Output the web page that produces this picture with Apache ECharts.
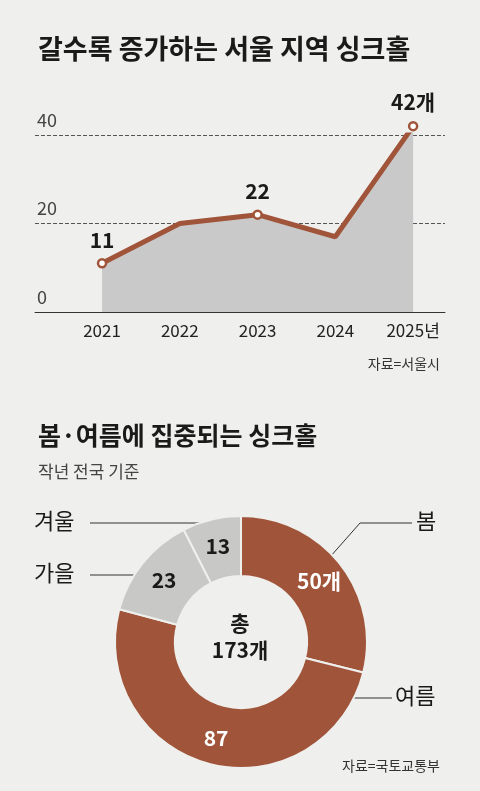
<!DOCTYPE html><html><head><meta charset="utf-8"><script src="https://cdn.jsdelivr.net/npm/echarts@6/dist/echarts.min.js"></script>
<style>body{margin:0;background:#efefed}#c{width:480px;height:791px}</style></head><body><div id="c"></div><script>
const years=[2021,2022,2023,2024,2025];
const counts=[11,20,22,17,42];
const labeled=[0,2,4];
const yTicks=[0,20,40];
const seasons=['봄','여름','가을','겨울'];
const seasonCounts=[50,87,23,13];
const total=173;
const F='"Noto Sans CJK KR", "Noto Sans", sans-serif';
const brown='#a0553a', grey='#c8c8c6';
const ch=echarts.init(document.getElementById('c'));
const lineData=years.map((y,i)=>({value:[y,counts[i]],
  symbol:labeled.includes(i)?'circle':'none',
  label:{show:labeled.includes(i),formatter:i===4?counts[i]+'개':String(counts[i])}}));
ch.setOption({
  backgroundColor:'#efefed',
  textStyle:{fontFamily:F},
  title:[
    {text:'갈수록 증가하는 서울 지역 싱크홀',left:33,top:30,textStyle:{fontSize:27,fontWeight:'bold',color:'#1a1a1a',fontFamily:F}},
    {text:'봄·여름에 집중되는 싱크홀',left:33,top:418,textStyle:{fontSize:25,fontWeight:'bold',color:'#1a1a1a',fontFamily:F}},
    {text:'작년 전국 기준',left:33,top:458,textStyle:{fontSize:17,fontWeight:'normal',color:'#444',fontFamily:F}},
    {text:'자료=서울시',right:35,top:352,textStyle:{fontSize:14,fontWeight:'normal',color:'#333',fontFamily:F}},
    {text:'자료=국토교통부',right:35,top:754,textStyle:{fontSize:14,fontWeight:'normal',color:'#333',fontFamily:F}}
  ],
  grid:{left:35,right:35,top:135,height:177},
  xAxis:{type:'value',min:2020.138,max:2025.41,
    axisLine:{show:true,lineStyle:{color:'#333',width:1}},axisTick:{show:false},splitLine:{show:false},
    axisLabel:{customValues:years,fontSize:17,color:'#222',margin:10,formatter:v=>v===2025?'2025년':String(v)}},
  yAxis:{type:'value',min:0,max:40,interval:20,
    axisLine:{show:false},axisTick:{show:false},
    splitLine:{lineStyle:{type:'dashed',color:'#555',width:1}},
    axisLabel:{inside:true,verticalAlign:'bottom',align:'left',margin:2,fontSize:18,color:'#444',padding:[0,0,6,0],formatter:v=>v===0?'0':String(v)}},
  series:[
    {type:'line',data:lineData,clip:false,symbolSize:8,
      itemStyle:{color:'#fff',borderColor:brown,borderWidth:2.5},
      lineStyle:{color:brown,width:5},
      areaStyle:{color:'#c9c9c9',opacity:1},
      label:{position:'top',distance:8,fontSize:21,fontWeight:'bold',color:'#1a1a1a'},z:3},
    {type:'pie',center:[241,642],radius:[66,126],startAngle:90,clockwise:true,
      data:seasons.map((s,i)=>({name:s,value:seasonCounts[i],
        itemStyle:{color:i<2?brown:grey},
        label:{color:i<2?'#fff':'#1a1a1a',formatter:i===0?seasonCounts[i]+'개':String(seasonCounts[i])}})),
      itemStyle:{borderColor:'#efefed',borderWidth:2},
      label:{show:true,position:'inside',fontSize:21,fontWeight:'bold'},
      labelLine:{show:false},silent:true}
  ],
  graphic:[
    {type:'text',left:'center',top:610,style:{text:'총\n'+total+'개',fill:'#1a1a1a',font:'bold 21px '+F,textAlign:'center',lineHeight:27}},
    {type:'polyline',shape:{points:[[330,557],[360,523],[412,523]]},style:{stroke:'#333',lineWidth:1,fill:null}},
    {type:'text',left:416,top:510,style:{text:seasons[0],fill:'#1a1a1a',font:'22px '+F}},
    {type:'line',shape:{x1:340,y1:698,x2:392,y2:698},style:{stroke:'#333',lineWidth:1}},
    {type:'text',left:395,top:685,style:{text:seasons[1],fill:'#1a1a1a',font:'22px '+F}},
    {type:'line',shape:{x1:90,y1:575,x2:143,y2:575},style:{stroke:'#333',lineWidth:1}},
    {type:'text',left:34,top:562,style:{text:seasons[2],fill:'#1a1a1a',font:'22px '+F}},
    {type:'line',shape:{x1:90,y1:523,x2:210,y2:523},style:{stroke:'#333',lineWidth:1}},
    {type:'text',left:34,top:510,style:{text:seasons[3],fill:'#1a1a1a',font:'22px '+F}}
  ]
});
</script></body></html>
